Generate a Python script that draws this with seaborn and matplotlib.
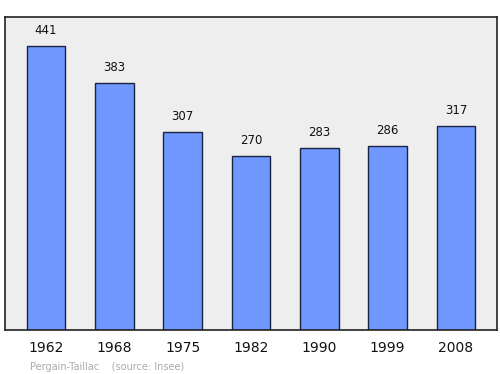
import matplotlib
matplotlib.use("Agg")
import matplotlib.pyplot as plt
import seaborn as sns
import pandas as pd

years = ["1962", "1968", "1975", "1982", "1990", "1999", "2008"]
population = [441, 383, 307, 270, 283, 286, 317]

sns.set_theme(style="white")
plt.rcParams['font.family'] = ['DejaVu Sans']

df = pd.DataFrame({"year": years, "pop": population})

fig = plt.figure(figsize=(5, 3.74), dpi=100)
ax = fig.add_axes([0.01, 0.1176, 0.984, 0.837])
ax.set_facecolor("#eeeeee")
sns.barplot(data=df, x="year", y="pop", ax=ax, color="#6f97fe", width=0.57,
            edgecolor="#1a2440", linewidth=1.0, saturation=1)
ax.set_xlim(-0.6, 6.6)
ax.set_ylim(0, 486)
ax.set_yticks([])
ax.set_xlabel("")
ax.set_ylabel("")
ax.tick_params(axis="x", length=0, labelsize=10, pad=8, colors="#111111")
for s in ax.spines.values():
    s.set_color("#222222")
    s.set_linewidth(1.2)
for i, v in enumerate(population):
    ax.annotate(str(v), (i, v), xytext=(0, 6.5), textcoords="offset points",
                ha="center", va="bottom", fontsize=8.5, color="#111111")
fig.text(0.06, 0.012, "Pergain-Taillac    (source: Insee)", fontsize=7, color="#aaaaaa")
fig.savefig("out.png", dpi=100)
